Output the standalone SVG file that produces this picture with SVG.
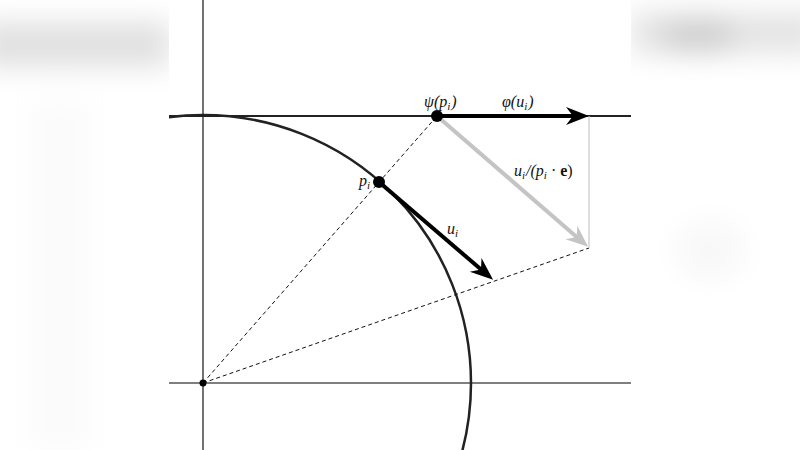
<svg xmlns="http://www.w3.org/2000/svg" width="800" height="450" viewBox="0 0 800 450">
<defs>
<filter id="blur" x="-50%" y="-50%" width="200%" height="200%"><feGaussianBlur stdDeviation="14"/></filter>
<clipPath id="page"><rect x="169" y="0" width="462" height="450"/></clipPath>
<marker id="hb" viewBox="-26 -10 28 20" refX="-12" refY="0" markerWidth="28" markerHeight="20" markerUnits="userSpaceOnUse" orient="auto">
<path d="M0,0 L-23,-9 L-16,0 L-23,9 Z" fill="#000"/>
</marker>
<marker id="hg" viewBox="-26 -10 28 20" refX="-12" refY="0" markerWidth="28" markerHeight="20" markerUnits="userSpaceOnUse" orient="auto">
<path d="M0,0 L-22,-9 L-15,0 L-22,9 Z" fill="#c4c4c4"/>
</marker>
<style>
.axis{stroke:#444;stroke-width:1.5;fill:none}
.circ{stroke:#222;stroke-width:2.5;fill:none}
.dash{stroke:#111;stroke-width:1;stroke-dasharray:4 3;fill:none}
.lbl{font-family:"Liberation Serif",serif;font-style:italic;font-size:16px;fill:#111}
</style>
</defs>
<g id="background">
<rect width="800" height="450" fill="#ffffff"/>
<g filter="url(#blur)">
<rect x="-20" y="22" width="190" height="45" fill="#e0e0e0"/>
<rect x="631" y="12" width="190" height="42" fill="#e4e4e4"/>
<ellipse cx="698" cy="36" rx="38" ry="16" fill="#cdcdcd"/>
<ellipse cx="710" cy="250" rx="35" ry="30" fill="#f8f8f8"/>
<rect x="30" y="100" width="60" height="350" fill="#fbfbfb"/>
</g>
<rect x="169" y="0" width="462" height="450" fill="#ffffff"/>
</g>
<g id="axes" clip-path="url(#page)">
<line class="axis" x1="203" y1="0" x2="203" y2="450"/>
<line class="axis" x1="169" y1="116" x2="631" y2="116" style="stroke:#222;stroke-width:2"/>
<line class="axis" x1="169" y1="383" x2="631" y2="383" style="stroke:#555"/>
</g>
<g id="circle" clip-path="url(#page)">
<circle class="circ" cx="203" cy="383" r="268"/>
</g>
<g id="connectors">
<line class="dash" x1="203" y1="383" x2="437" y2="116"/>
<line class="dash" x1="203" y1="383" x2="589" y2="248"/>
<line x1="589" y1="116" x2="589" y2="248" stroke="#c8c8c8" stroke-width="1.2"/>
<path d="M437,116 L579,239" stroke="#c4c4c4" stroke-width="4" fill="none" marker-end="url(#hg)"/>
<path d="M437,116 L577,116" stroke="#000" stroke-width="4" fill="none" marker-end="url(#hb)"/>
<path d="M379,182 L484,272" stroke="#000" stroke-width="4" fill="none" marker-end="url(#hb)"/>
</g>
<g id="node-psi">
<circle cx="437" cy="116" r="6" fill="#000"/>
<text class="lbl" x="424" y="107">ψ(p<tspan font-size="11" dy="3">i</tspan><tspan dy="-3" dx="1">)</tspan></text>
</g>
<g id="node-p">
<circle cx="379" cy="182" r="6" fill="#000"/>
<text class="lbl" x="359" y="186">p<tspan font-size="11" dy="3">i</tspan></text>
</g>
<g id="node-o">
<circle cx="203" cy="383" r="3.5" fill="#000"/>
</g>
<g id="labels">
<text class="lbl" x="502" y="107">φ(u<tspan font-size="11" dy="3">i</tspan><tspan dy="-3" dx="1">)</tspan></text>
<text class="lbl" x="447" y="234">u<tspan font-size="11" dy="3">i</tspan></text>
<text class="lbl" x="514" y="176">u<tspan font-size="11" dy="3">i</tspan><tspan dy="-3" dx="1">/(p</tspan><tspan font-size="11" dy="3">i</tspan><tspan dy="-3" font-style="normal"> · </tspan><tspan font-style="normal" font-weight="bold">e</tspan><tspan font-style="normal">)</tspan></text>
</g>
</svg>
